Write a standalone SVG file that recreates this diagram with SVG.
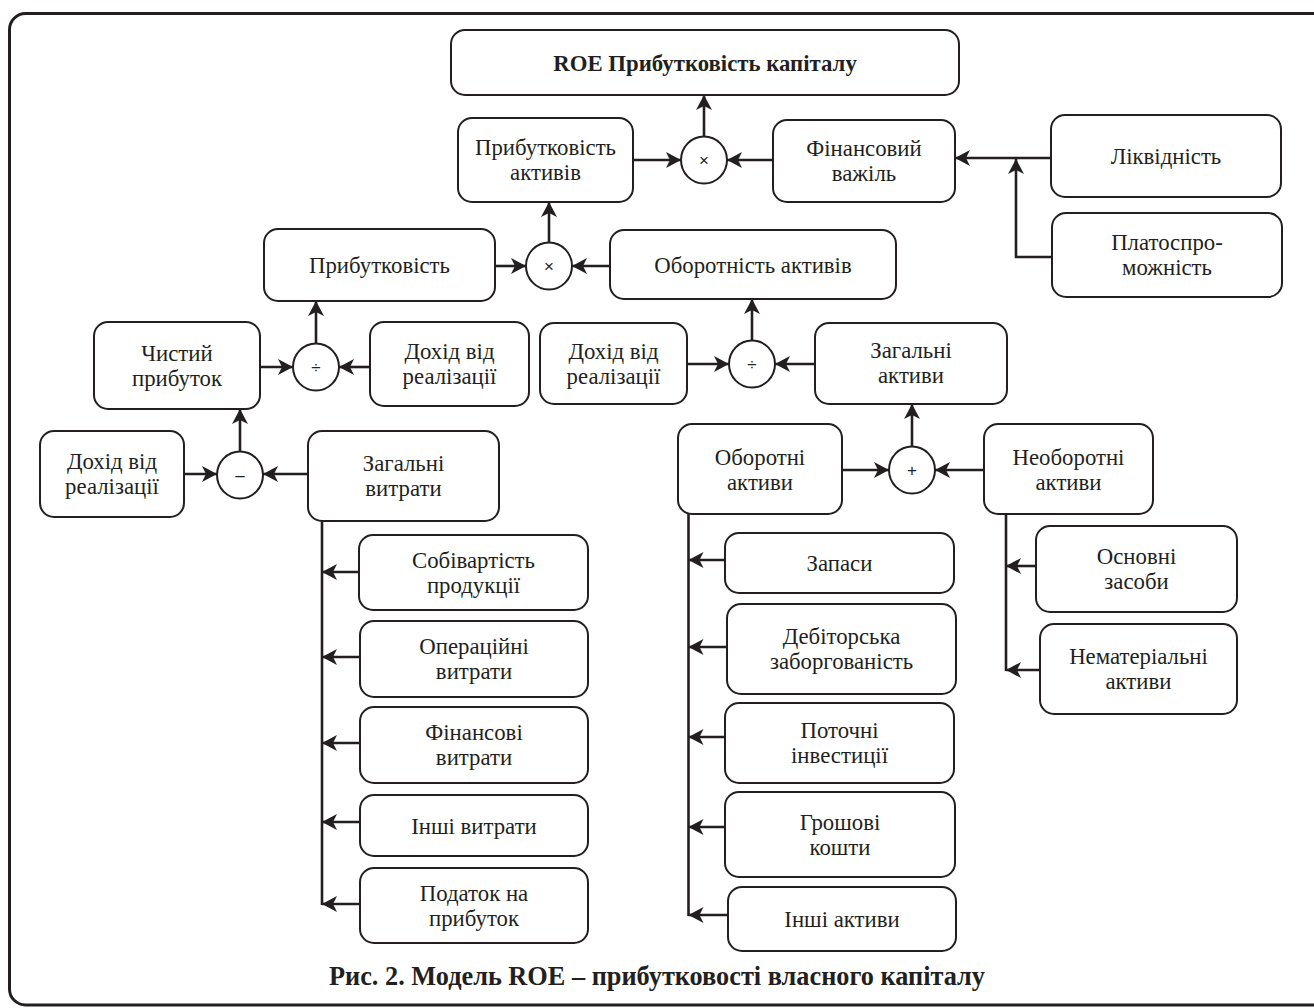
<svg xmlns="http://www.w3.org/2000/svg" width="1314" height="1008" viewBox="0 0 1314 1008">
<style>
.frame{fill:none;stroke:#231f20;stroke-width:3}
.box{fill:#fff;stroke:#231f20;stroke-width:2}
.op{fill:#fff;stroke:#231f20;stroke-width:2}
.t{font-family:"Liberation Serif","Times New Roman",serif;font-size:24px;fill:#231f20;text-anchor:middle;transform-box:fill-box;transform-origin:center;transform:scaleX(0.95)}
.b{font-weight:bold}
.cap{font-family:"Liberation Serif","Times New Roman",serif;font-size:26.3px;font-weight:bold;fill:#231f20;text-anchor:middle}
.sym{font-family:"Liberation Sans",Arial,sans-serif;font-size:17px;fill:#231f20;text-anchor:middle}
.c{fill:none;stroke:#231f20;stroke-width:2.6}
.ca{fill:none;stroke:#231f20;stroke-width:2.6;marker-end:url(#ah)}
</style>
<defs>
<marker id="ah" markerUnits="userSpaceOnUse" markerWidth="16" markerHeight="16" refX="15" refY="8" orient="auto" viewBox="0 0 16 16">
<path d="M0,0 L15,8 L0,16 L4,8 z" fill="#231f20"/>
</marker>
</defs>
<rect class="frame" x="9.5" y="13.5" width="1330" height="991.5" rx="16"/>

<g id="connectors">
<path class="ca" d="M704,137 V95"/>
<path class="ca" d="M633,160 H681"/>
<path class="ca" d="M773,160 H727"/>
<path class="ca" d="M1051,158 H955"/>
<path class="ca" d="M1052,257 H1016 V159"/>
<path class="ca" d="M549,243 V202"/>
<path class="ca" d="M495,266 H526"/>
<path class="ca" d="M610,266 H572"/>
<path class="ca" d="M316,344 V301"/>
<path class="ca" d="M260,367 H293"/>
<path class="ca" d="M370,367 H339"/>
<path class="ca" d="M752,341 V299"/>
<path class="ca" d="M687,364 H729"/>
<path class="ca" d="M815,364 H775"/>
<path class="ca" d="M240,452 V409"/>
<path class="ca" d="M184,474 H217"/>
<path class="ca" d="M308,474 H263"/>
<path class="ca" d="M912,447 V404"/>
<path class="ca" d="M842,470 H889"/>
<path class="ca" d="M984,470 H935"/>
<path class="c" d="M322,521 V905"/>
<path class="ca" d="M359,572 H322"/>
<path class="ca" d="M360,657 H322"/>
<path class="ca" d="M360,743 H322"/>
<path class="ca" d="M360,822 H322"/>
<path class="ca" d="M360,904 H322"/>
<path class="c" d="M688.5,514 V916"/>
<path class="ca" d="M725,560 H688.5"/>
<path class="ca" d="M727,647 H688.5"/>
<path class="ca" d="M725,737 H688.5"/>
<path class="ca" d="M725,827 H688.5"/>
<path class="ca" d="M728,915 H688.5"/>
<path class="c" d="M1006,514 V671"/>
<path class="ca" d="M1036,566 H1006"/>
<path class="ca" d="M1040,670 H1006"/>
</g>

<g id="roe"><rect class="box" x="451" y="30" width="508" height="65" rx="14"/><text class="t b" x="705" y="71">ROE Прибутковість капіталу</text></g>
<g id="prib-aktyviv"><rect class="box" x="458" y="118" width="175" height="84" rx="14"/><text class="t" x="545.5" y="155">Прибутковість</text><text class="t" x="545.5" y="180">активів</text></g>
<g id="fin-vazhil"><rect class="box" x="773" y="120" width="182" height="82" rx="14"/><text class="t" x="864" y="156">Фінансовий</text><text class="t" x="864" y="181">важіль</text></g>
<g id="likvidnist"><rect class="box" x="1051" y="115" width="230" height="82" rx="14"/><text class="t" x="1166" y="164">Ліквідність</text></g>
<g id="platospro"><rect class="box" x="1052" y="213" width="230" height="84" rx="14"/><text class="t" x="1167" y="250">Платоспро-</text><text class="t" x="1167" y="275">можність</text></g>
<g id="prybutkovist"><rect class="box" x="264" y="229" width="231" height="72" rx="14"/><text class="t" x="379.5" y="273">Прибутковість</text></g>
<g id="oborotnist"><rect class="box" x="610" y="230" width="286" height="69" rx="14"/><text class="t" x="753" y="273">Оборотність активів</text></g>
<g id="chystyi"><rect class="box" x="94" y="322" width="166" height="87" rx="14"/><text class="t" x="177" y="361">Чистий</text><text class="t" x="177" y="386">прибуток</text></g>
<g id="dohid1"><rect class="box" x="370" y="322" width="159" height="84" rx="14"/><text class="t" x="449.5" y="359">Дохід від</text><text class="t" x="449.5" y="384">реалізації</text></g>
<g id="dohid2"><rect class="box" x="540" y="323" width="147" height="81" rx="14"/><text class="t" x="613.5" y="359">Дохід від</text><text class="t" x="613.5" y="384">реалізації</text></g>
<g id="zag-aktyvy"><rect class="box" x="815" y="323" width="192" height="81" rx="14"/><text class="t" x="911" y="358">Загальні</text><text class="t" x="911" y="383">активи</text></g>
<g id="dohid3"><rect class="box" x="40" y="431" width="144" height="86" rx="14"/><text class="t" x="112" y="469">Дохід від</text><text class="t" x="112" y="494">реалізації</text></g>
<g id="zag-vytraty"><rect class="box" x="308" y="431" width="191" height="90" rx="14"/><text class="t" x="403.5" y="471">Загальні</text><text class="t" x="403.5" y="496">витрати</text></g>
<g id="oborotni"><rect class="box" x="678" y="424" width="164" height="90" rx="14"/><text class="t" x="760" y="465">Оборотні</text><text class="t" x="760" y="490">активи</text></g>
<g id="neoborotni"><rect class="box" x="984" y="424" width="169" height="90" rx="14"/><text class="t" x="1068.5" y="465">Необоротні</text><text class="t" x="1068.5" y="490">активи</text></g>
<g id="sobivartist"><rect class="box" x="359" y="535" width="229" height="75" rx="14"/><text class="t" x="473.5" y="568">Собівартість</text><text class="t" x="473.5" y="593">продукції</text></g>
<g id="operatsiini"><rect class="box" x="360" y="621" width="228" height="76" rx="14"/><text class="t" x="474" y="654">Операційні</text><text class="t" x="474" y="679">витрати</text></g>
<g id="finansovi"><rect class="box" x="360" y="707" width="228" height="76" rx="14"/><text class="t" x="474" y="740">Фінансові</text><text class="t" x="474" y="765">витрати</text></g>
<g id="inshi-vytraty"><rect class="box" x="360" y="795" width="228" height="61" rx="14"/><text class="t" x="474" y="834">Інші витрати</text></g>
<g id="podatok"><rect class="box" x="360" y="868" width="228" height="75" rx="14"/><text class="t" x="474" y="901">Податок на</text><text class="t" x="474" y="926">прибуток</text></g>
<g id="zapasy"><rect class="box" x="725" y="533" width="229" height="60" rx="14"/><text class="t" x="839.5" y="571">Запаси</text></g>
<g id="debitorska"><rect class="box" x="727" y="604" width="229" height="90" rx="14"/><text class="t" x="841.5" y="644">Дебіторська</text><text class="t" x="841.5" y="669">заборгованість</text></g>
<g id="potochni"><rect class="box" x="725" y="703" width="229" height="80" rx="14"/><text class="t" x="839.5" y="738">Поточні</text><text class="t" x="839.5" y="763">інвестиції</text></g>
<g id="groshovi"><rect class="box" x="725" y="792" width="230" height="85" rx="14"/><text class="t" x="840" y="830">Грошові</text><text class="t" x="840" y="855">кошти</text></g>
<g id="inshi-aktyvy"><rect class="box" x="728" y="887" width="228" height="64" rx="14"/><text class="t" x="842" y="927">Інші активи</text></g>
<g id="osnovni"><rect class="box" x="1036" y="526" width="201" height="86" rx="14"/><text class="t" x="1136.5" y="564">Основні</text><text class="t" x="1136.5" y="589">засоби</text></g>
<g id="nematerialni"><rect class="box" x="1040" y="624" width="197" height="90" rx="14"/><text class="t" x="1138.5" y="664">Нематеріальні</text><text class="t" x="1138.5" y="689">активи</text></g>

<g id="op-mul1"><ellipse class="op" cx="704" cy="160" rx="23" ry="23.5"/><text class="sym" x="704" y="166">×</text></g>
<g id="op-mul2"><ellipse class="op" cx="549" cy="266" rx="23" ry="23.5"/><text class="sym" x="549" y="272">×</text></g>
<g id="op-div1"><ellipse class="op" cx="316" cy="367" rx="23" ry="23.5"/><text class="sym" x="316" y="373">÷</text></g>
<g id="op-div2"><ellipse class="op" cx="752" cy="364" rx="23" ry="23.5"/><text class="sym" x="752" y="370">÷</text></g>
<g id="op-minus"><ellipse class="op" cx="240" cy="475" rx="23" ry="23.5"/><text class="sym" x="240" y="481">–</text></g>
<g id="op-plus"><ellipse class="op" cx="912" cy="470" rx="23" ry="23.5"/><text class="sym" x="912" y="476">+</text></g>

<text class="cap" x="657" y="985">Рис. 2. Модель ROE – прибутковості власного капіталу</text>
</svg>
